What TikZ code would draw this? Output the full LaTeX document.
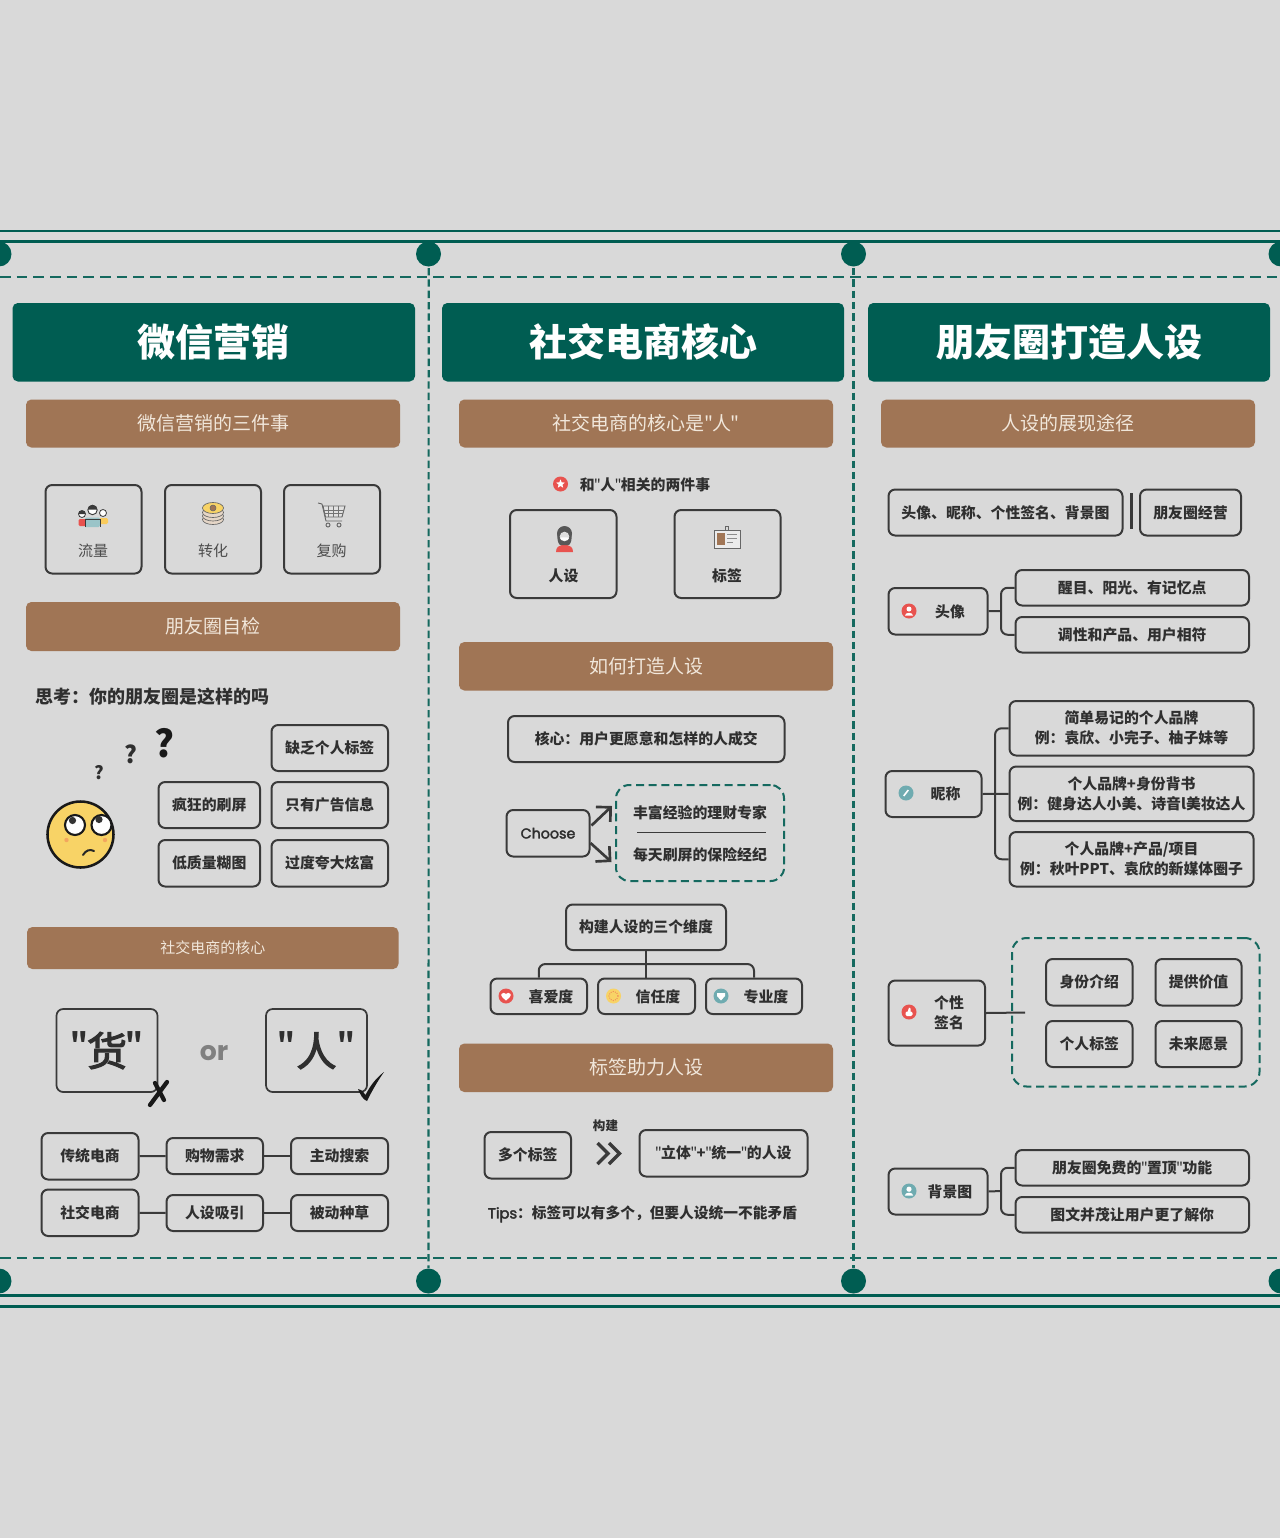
\documentclass[tikz,border=0pt]{standalone}
\usepackage{fontspec}
\newfontfamily\cjkf{Noto Sans CJK SC}
\newfontfamily\cjkm{Noto Sans CJK SC}[FakeBold=3]
\newfontfamily\latf{Poppins}
\newfontfamily\latm{Poppins}[FakeBold=2.5]
\usetikzlibrary{arrows.meta}
\definecolor{bgc}{HTML}{D9D9D9}
\definecolor{teal}{HTML}{005D52}
\definecolor{teald}{HTML}{15695F}
\definecolor{brn}{HTML}{A07555}
\definecolor{ink}{HTML}{3A3A3A}
\definecolor{txt}{HTML}{2F2F2F}
\definecolor{cream}{HTML}{F1E7DB}
\definecolor{redi}{HTML}{E8534F}
\definecolor{yeli}{HTML}{F8D366}
\definecolor{teali}{HTML}{6FABB0}
\newcommand\FS[2]{\cjkf\fontsize{#1}{#2}\selectfont}
% narrow straight quote used inside labels
\newcommand\qt{{\mdseries\kern-.5pt"\kern-.5pt}}
% raised small quote used in the two large boxes
\newcommand\QQ{\raisebox{9pt}{\FS{21}{24}\bfseries"}}
\tikzset{
  bx/.style={draw=ink,line width=1.5pt,rounded corners=5pt,text=txt,inner sep=0pt,align=center,font=\FS{11.15}{15}\bfseries},
  bxbig/.style={bx,line width=1.3pt,font=\FS{30}{36}\cjkm},
  hd/.style={fill=teal,rounded corners=4pt,text=white,inner sep=0pt,font=\FS{28.5}{32}\bfseries},
  bar/.style={fill=brn,rounded corners=4pt,text=cream,inner sep=0pt,font=\FS{14.25}{18}},
  dbox/.style={draw=teald,line width=1.5pt,dash pattern=on 6pt off 3.5pt,rounded corners=10pt,inner sep=0pt},
  conn/.style={draw=ink,line width=1.5pt},
  free/.style={inner sep=0pt,text=txt,align=center,font=\FS{11.15}{15}\bfseries},
  edge1/.style={draw=teald,line width=1.7pt,dash pattern=on 8pt off 4.5pt},
  edge2/.style={draw=teald,line width=1.6pt,dash pattern=on 5.5pt off 3pt},
  rail/.style={draw=teal},
  dot/.style={fill=teal},
  icoline/.style={draw=ink,line width=.6pt},
}
% [style] name x1 y1 x2 y2 text
\newcommand\BX[7][bx]{%
  \pgfmathsetmacro\bxc{(#3+#5)/2}\pgfmathsetmacro\byc{(#4+#6)/2}%
  \pgfmathsetmacro\bw{(#5-#3)*0.75}\pgfmathsetmacro\bh{(#6-#4)*0.75}%
  \node[#1,minimum width=\bw pt,minimum height=\bh pt] (#2) at (\bxc,\byc) {#7};}
\newcommand\ICO[4]{\begin{scope}[shift={(#1,#2)}]\fill[#3] (0,0) circle[radius=7.5];#4\end{scope}}
\begin{document}
\begin{tikzpicture}[x=.75pt,y=-.75pt]
\useasboundingbox (0,0) rectangle (1280,1538);
\fill[bgc] (0,0) rectangle (1280,1538);

% frame
\coordinate (tl1) at (0,231); \coordinate (tr1) at (1280,231);
\coordinate (tl2) at (0,241.5); \coordinate (tr2) at (1280,241.5);
\coordinate (tl3) at (0,277); \coordinate (tr3) at (1280,277);
\coordinate (bl1) at (0,1258); \coordinate (br1) at (1280,1258);
\coordinate (bl2) at (0,1295.5); \coordinate (br2) at (1280,1295.5);
\coordinate (bl3) at (0,1306.5); \coordinate (br3) at (1280,1306.5);
\draw[rail,line width=2.2pt] (tl1) -- (tr1);
\draw[rail,line width=1.6pt] (tl2) -- (tr2);
\draw[edge1] (tl3) -- (tr3);
\draw[edge1] (bl1) -- (br1);
\draw[rail,line width=1.6pt] (bl2) -- (br2);
\draw[rail,line width=2.2pt] (bl3) -- (br3);
\coordinate (v1t) at (428.7,268); \coordinate (v1b) at (428.5,1268);
\coordinate (v2t) at (853.5,268); \coordinate (v2b) at (853.5,1268);
\draw[edge2] (v1t) -- (v1b);
\draw[edge2] (v2t) -- (v2b);
\foreach \px in {-1,428.5,853.5,1281}{
  \fill[dot] (\px,254) circle[radius=12.5];
  \fill[dot] (\px,1281) circle[radius=12.5];
}

% headers
\BX[hd]{h1}{12.5}{303}{415}{381.5}{微信营销}
\BX[hd]{h2}{442}{303}{844}{381.5}{社交电商核心}
\BX[hd]{h3}{868}{303}{1270}{381.5}{朋友圈打造人设}
\BX[bar]{b11}{26}{399.5}{400}{447.5}{微信营销的三件事}
\BX[bar]{b21}{459}{399.5}{833}{447.5}{社交电商的核心是\qt 人\qt}
\BX[bar]{b31}{881}{399.5}{1255}{447.5}{人设的展现途径}
\BX[bar]{b12}{26}{602}{400}{651}{朋友圈自检}
\BX[bar,font=\FS{11.25}{15}]{b13}{27}{927}{398.5}{969}{社交电商的核心}
\BX[bar]{b22}{459}{642}{833}{690.5}{如何打造人设}
\BX[bar]{b23}{459}{1043.5}{833}{1092}{标签助力人设}

% ---------- column 1
\BX[bx]{c1a}{45.5}{485}{141.5}{573.5}{}
\BX[bx]{c1b}{165}{485}{261}{573.5}{}
\BX[bx]{c1c}{284}{485}{380}{573.5}{}
\node[free,font=\FS{11.25}{15},text=black!70] (t1a) at (93,550.5) {流量};
\node[free,font=\FS{11.25}{15},text=black!70] (t1b) at (213,550.5) {转化};
\node[free,font=\FS{11.25}{15},text=black!70] (t1c) at (331.5,550.5) {复购};
% people icon
\fill[redi,rounded corners=1pt] (78.5,526) rectangle (86,519);
\fill[yeli!90!orange,rounded corners=1pt] (99,524) rectangle (108,518);
\filldraw[fill=white,draw=ink,line width=.6pt] (82,514) circle[radius=3.5];
\fill[ink] (78.5,514) arc[start angle=180,end angle=360,radius=3.5] -- cycle;
\filldraw[fill=white,draw=ink,line width=.6pt] (103,513) circle[radius=3.5];
\fill[teali!70!white,rounded corners=1pt] (85,527) rectangle (100,517.5);
\draw[icoline] (85,527) -- (85,519) -- (100,519) -- (100,527);
\filldraw[fill=white,draw=ink,line width=.7pt] (92.5,510) circle[radius=4.7];
\fill[ink] (87.8,509.5) arc[start angle=180,end angle=360,radius=4.7] -- cycle;
% coins icon
\foreach \cy in {519.5,516,512.5}{\filldraw[fill=cream!85!brn,draw=black!60,line width=.5pt] (213,\cy) ellipse[x radius=10.5,y radius=5];}
\filldraw[fill=yeli,draw=black!60,line width=.5pt] (213,508) ellipse[x radius=10.5,y radius=5.5];
\filldraw[fill=brn,draw=black!60,line width=.4pt] (213,508) circle[radius=3];
% cart icon
\draw[black!60,line width=.7pt] (318,503) -- (322,504) -- (326,521) -- (342,521);
\filldraw[fill=bgc!80!white,draw=black!60,line width=.7pt] (323,506) -- (345,506) -- (342,517) -- (325.5,517) -- cycle;
\foreach \gx in {328,333,338}{\draw[black!55,line width=.5pt] (\gx,506) -- (\gx,517);}
\draw[black!55,line width=.5pt] (323.8,510) -- (344,510) (324.8,513.5) -- (343,513.5);
\draw[black!60,line width=.7pt] (328,525) circle[radius=2] (339,525) circle[radius=2];
% thinking
\node[free,anchor=west,font=\FS{13.5}{16}\bfseries] (q0) at (35,696.5) {思考：你的朋友圈是这样的吗};
\node[free,font=\FS{28}{30}\bfseries,text=black!90] (q1) at (165,743.5) {?};
\node[free,font=\FS{18}{20}\bfseries] (q2) at (131,754.5) {?};
\node[free,font=\FS{13.5}{15}\bfseries] (q3) at (99,772.5) {?};
% face
\filldraw[fill=yeli,draw=black!90,line width=1.9pt] (80.5,834.5) circle[radius=33];
\fill[redi!35!yeli] (66.5,840) circle[radius=2.2] (105,840) circle[radius=2.2];
\filldraw[fill=white,draw=black!90,line width=1.6pt] (75,825) circle[radius=10];
\filldraw[fill=white,draw=black!90,line width=1.6pt] (101.5,825) circle[radius=10];
\fill[black!80] (72.5,820.5) circle[radius=3.6];
\fill[black!80] (99,819.5) circle[radius=3.6];
\draw[black!85,line width=1.5pt,line cap=round] (83,855) .. controls (86,850) and (90,849) .. (94,851);

\BX{c1d}{271.5}{725}{388}{771}{缺乏个人标签}
\BX{c1e}{158.5}{782}{260}{828}{疯狂的刷屏}
\BX{c1f}{271.5}{782}{388}{828}{只有广告信息}
\BX{c1g}{158.5}{840}{260}{886.5}{低质量糊图}
\BX{c1h}{271.5}{840}{388}{886.5}{过度夸大炫富}
\BX[bxbig]{c1i}{56.5}{1009}{157.5}{1092}{\QQ\hspace{-1pt}货\hspace{-1pt}\QQ}
\BX[bxbig]{c1j}{266}{1009}{367}{1092}{\QQ\hspace{1pt}人\hspace{1pt}\QQ}
\node[free,font=\FS{20}{22}\latf\bfseries,text=black!50] (orr) at (214,1053) {or};
\draw[black!90,line width=3.2pt,line cap=round] (155,1083) -- (164,1100);
\draw[black!90,line width=3.2pt,line cap=round] (167,1082) -- (150,1105);
\fill[black!90] (358,1089) .. controls (362,1090) and (364,1092) .. (365.5,1095) .. controls (370,1086) and (376,1078) .. (384,1072) .. controls (377,1082) and (372,1091) .. (367,1101) .. controls (363,1100) and (360,1094) .. (358,1089) -- cycle;

\BX{r1}{41.5}{1133}{138.5}{1179.5}{传统电商}
\BX{r2}{166.5}{1138}{263}{1174}{购物需求}
\BX{r3}{291}{1138}{388}{1174}{主动搜索}
\BX{s1}{41.5}{1189.5}{138.5}{1236}{社交电商}
\BX{s2}{166.5}{1195}{263}{1231}{人设吸引}
\BX{s3}{291}{1195}{388}{1231}{被动种草}
\draw[conn] (r1) -- (r2); \draw[conn] (r2) -- (r3);
\draw[conn] (s1) -- (s2); \draw[conn] (s2) -- (s3);

% ---------- column 2
\ICO{560.5}{484}{redi}{\fill[white] (-90:4.6) -- (-54:2) -- (-18:4.6) -- (18:2) -- (54:4.6) -- (90:2) -- (126:4.6) -- (162:2) -- (198:4.6) -- (234:2) -- cycle;}
\node[free,anchor=west] (t20) at (579.5,484.5) {和\qt 人\qt 相关的两件事};
\BX{c2a}{510}{510}{616.5}{598}{}
\BX{c2b}{674.5}{510}{780.5}{598}{}
\node[free] (t2a) at (563.5,575.5) {人设};
\node[free] (t2b) at (727,575.5) {标签};
% person icon
\fill[redi] (556,552) .. controls (556,547) and (559,545.5) .. (562,545) -- (567,545) .. controls (570,545.5) and (573,547) .. (573,552) -- cycle;
\fill[ink!85!white] (564.5,533.5) circle[radius=7.5];
\fill[ink!85!white] (557.5,534) .. controls (557,540) and (558,543) .. (560,545) -- (569,545) .. controls (571,543) and (572,540) .. (571.5,534) -- cycle;
\fill[black!12] (564.5,536.5) circle[radius=4.8];
\fill[white] (559.9,538) .. controls (561,537) and (568,537) .. (569.1,538) .. controls (568.5,541.5) and (560.5,541.5) .. (559.9,538) -- cycle;
% badge icon
\draw[black!60,line width=.7pt] (725,526) rectangle (728,531);
\filldraw[fill=white!92!black,draw=black!60,line width=.7pt] (714,530) rectangle (740,548);
\fill[brn] (717,533) rectangle (724.5,545);
\draw[black!45,line width=.7pt] (727,534) -- (737,534) (727,538) -- (737,538) (727,542) -- (733,542);

\BX{c2c}{508}{716}{784.5}{762}{核心：用户更愿意和怎样的人成交}
\BX[bx,font=\FS{10.7}{13}\latm]{ch}{506.5}{810}{589.5}{856.5}{Choose}
\BX[dbox]{dsh}{616}{785}{784}{881}{}
\node[free] (t2d) at (700,812.5) {丰富经验的理财专家};
\node[free] (t2e) at (700,854.5) {每天刷屏的保险经纪};
\coordinate (sl) at (637,832.7); \coordinate (sr) at (765.5,832.7);
\draw[ink,line width=1pt] (sl) -- (sr);
\coordinate (au) at (612,806); \coordinate (ad) at (611.5,862);
\coordinate (cu) at (591.5,825.5); \coordinate (cd) at (590.5,843);
\draw[ink,line width=2pt,-{Straight Barb[length=7pt,width=13pt,angle=90:11pt]}] (cu) -- (au);
\draw[ink,line width=2pt,-{Straight Barb[length=7pt,width=13pt,angle=90:11pt]}] (cd) -- (ad);

\BX{d0}{566}{904.5}{726}{950}{构建人设的三个维度}
\BX[bx]{d1}{490.5}{978.5}{587}{1014}{}
\BX[bx]{d2}{598}{978.5}{695}{1014}{}
\BX[bx]{d3}{706}{978.5}{802}{1014}{}
\node[free] (td1) at (551,996.5) {喜爱度};
\node[free] (td2) at (658,996.5) {信任度};
\node[free] (td3) at (766,996.5) {专业度};
\coordinate (hb) at (646,964);
\draw[conn,rounded corners=5pt] (d1.north) |- (hb) -| (d3.north);
\draw[conn] (d0.south) -- (d2.north -| d0.south);
\ICO{506}{996}{redi}{\fill[white] (0,4.5) .. controls (-3,2) and (-5.5,0) .. (-4.5,-2) .. controls (-3.5,-3.8) and (-1,-3.5) .. (0,-2) .. controls (1,-3.5) and (3.5,-3.8) .. (4.5,-2) .. controls (5.5,0) and (3,2) .. (0,4.5) -- cycle;}
\ICO{613.5}{996}{yeli}{\draw[redi!60!yeli,line width=.7pt,densely dotted] (0,0) circle[radius=4.6];}
\ICO{721}{996}{teali}{\fill[white] (-4,-3) -- (4,-3) -- (4,0) -- (0,4.5) -- (-4,0) -- cycle;}

\BX{e1}{484.5}{1132}{571}{1178.5}{多个标签}
\BX{e2}{639.5}{1130}{807.5}{1176.5}{\qt 立体\qt +\qt 统一\qt 的人设}
\node[free,font=\FS{9.4}{11}\bfseries] (tbuild) at (605.5,1126) {构建};
\coordinate (ch1a) at (597.5,1143); \coordinate (ch1b) at (608,1153.5); \coordinate (ch1c) at (597.5,1164);
\coordinate (ch2a) at (609,1143); \coordinate (ch2b) at (619.5,1153.5); \coordinate (ch2c) at (609,1164);
\draw[ink,line width=2.6pt] (ch1a) -- (ch1b) -- (ch1c);
\draw[ink,line width=2.6pt] (ch2a) -- (ch2b) -- (ch2c);
\node[free,font=\FS{11.05}{15}\bfseries] (ttips) at (642.5,1214) {{\latm\mdseries Tips}：标签可以有多个，但要人设统一不能矛盾};

% ---------- column 3
\BX{f1}{888.5}{489.5}{1122.5}{535.5}{头像、昵称、个性签名、背景图}
\BX{f2}{1140}{489.5}{1241}{535.5}{朋友圈经营}
\coordinate (fa) at (1131.7,493); \coordinate (fb) at (1131.7,529);
\draw[ink,line width=2.3pt] (fa) -- (fb);

\BX[bx]{g0}{888.5}{588}{987.5}{634.5}{}
\node[free] (tg0) at (950,611.5) {头像};
\BX{g1}{1015.5}{570}{1249}{605.5}{醒目、阳光、有记忆点}
\BX{g2}{1015.5}{617}{1249}{652.5}{调性和产品、用户相符}
\coordinate (gs) at (1001,611);
\draw[conn] (g0.east) -- (gs);
\draw[conn,rounded corners=5pt] (g1.west) -| (gs |- g2.west) -- (g2.west);
\ICO{909}{611}{redi}{\fill[white] (0,-2) circle[radius=2.5] (-4,4.5) .. controls (-4,1) and (4,1) .. (4,4.5) -- cycle;}

\BX[bx]{n0}{885.5}{771}{981.5}{817}{}
\node[free] (tn0) at (945.5,793.5) {昵称};
\BX{n1}{1009.5}{701}{1253.5}{755.5}{简单易记的个人品牌\\例：袁欣、小完子、柚子妹等}
\BX{n2}{1009.5}{766.5}{1253.5}{821}{个人品牌+身份背书\\例：健身达人小美、诗音l美妆达人}
\BX{n3}{1009.5}{832}{1253.5}{886.5}{个人品牌+产品/项目\\例：秋叶PPT、袁欣的新媒体圈子}
\coordinate (ns) at (995,793);
\draw[conn] (n0.east) -- (n2.west);
\draw[conn,rounded corners=5pt] (n1.west) -| (ns |- n3.west) -- (n3.west);
\ICO{906}{793}{teali}{\draw[white,line width=1.2pt] (-2.3,3) -- (2.3,-3);}

\BX[bx]{p0}{888.5}{980.5}{985}{1045.5}{}
\node[free] (tp0) at (949,1013) {个性\\签名};
\ICO{909}{1012}{redi}{\fill[white,rounded corners=1pt] (-3.5,-.5) rectangle (3.5,4); \fill[white] (-1.5,0) -- (0,-4.5) -- (1.5,-3.5) -- (1.5,0) -- cycle;}
\BX[dbox,rounded corners=11pt]{pd}{1012}{938}{1259.5}{1086.5}{}
\coordinate (pe) at (1025,1012.5);
\draw[conn] (p0.east) -- (pe);
\BX{p1}{1046}{959}{1132.5}{1005.5}{身份介绍}
\BX{p2}{1155.5}{959}{1241.5}{1005.5}{提供价值}
\BX{p3}{1046}{1021}{1132.5}{1067}{个人标签}
\BX{p4}{1155.5}{1021}{1241.5}{1067}{未来愿景}

\BX[bx]{k0}{888.5}{1168.5}{987.5}{1214.5}{}
\node[free] (tk0) at (950,1191.5) {背景图};
\BX{k1}{1015.5}{1150}{1249}{1185.5}{朋友圈免费的\qt 置顶\qt 功能}
\BX{k2}{1015.5}{1197}{1249}{1232.5}{图文并茂让用户更了解你}
\coordinate (ks) at (1001,1191);
\draw[conn] (k0.east) -- (ks);
\draw[conn,rounded corners=5pt] (k1.west) -| (ks |- k2.west) -- (k2.west);
\ICO{909}{1191}{teali}{\fill[white] (0,-1.8) circle[radius=2.6] (-4.2,4.5) .. controls (-4.2,.8) and (4.2,.8) .. (4.2,4.5) -- cycle;}
\end{tikzpicture}
\end{document}
